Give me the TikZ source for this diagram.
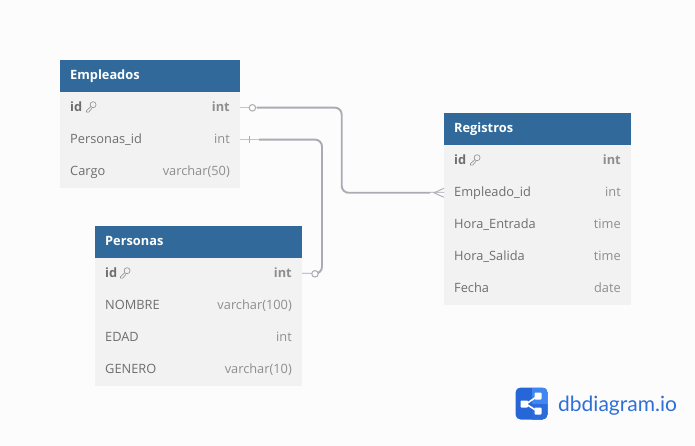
\documentclass[tikz,border=0pt]{standalone}
\usepackage{fontspec}
\setmainfont{Open Sans}
\newfontfamily\logofont{Lato}
\definecolor{hdr}{HTML}{316A9A}
\definecolor{rowbg}{HTML}{F2F2F3}
\definecolor{pagebg}{HTML}{FCFCFD}
\definecolor{txt}{HTML}{6E6E6E}
\definecolor{typ}{HTML}{8E8E8E}
\definecolor{lnk}{HTML}{ABABB3}
\definecolor{lnklight}{HTML}{C4C4C8}
\definecolor{logoA}{HTML}{2766D6}
\definecolor{logoB}{HTML}{3F86F2}
\definecolor{logoT}{HTML}{2F6FD8}
\tikzset{
  x=1pt,y=-1pt,
  head/.style={fill=hdr,minimum height=32pt,anchor=north west,inner sep=0pt,outer sep=0pt},
  body/.style={fill=rowbg,anchor=north west,inner sep=0pt,outer sep=0pt},
  htext/.style={anchor=base west,inner sep=0pt,text=white,font=\fontsize{12.8}{14}\selectfont\bfseries},
  fname/.style={anchor=base west,inner sep=0pt,text=txt,font=\fontsize{12.8}{14}\selectfont},
  fkey/.style={anchor=base west,inner sep=0pt,text=txt,font=\fontsize{12.8}{14}\selectfont\bfseries},
  ftype/.style={anchor=base east,inner sep=0pt,text=typ,font=\fontsize{12.8}{14}\selectfont},
  fktype/.style={anchor=base east,inner sep=0pt,text=typ,font=\fontsize{12.8}{14}\selectfont\bfseries},
  rel/.style={draw=lnk,line width=1.9pt,rounded corners=7pt},
  relthin/.style={draw=lnklight,line width=1.1pt},
  endcirc/.style={circle,draw=lnk,fill=pagebg,line width=1pt,minimum size=6.5pt,inner sep=0pt},
  keyicon/.style={draw=typ,line width=.6pt},
}
\begin{document}
\begin{tikzpicture}
\useasboundingbox (0,0) rectangle (695,446);
\fill[pagebg] (0,0) rectangle (695,446);

% Empleados
\node[body,minimum width=180pt,minimum height=96pt] (eb) at (60,92) {};
\node[head,minimum width=180pt] (eh) at (60,60) {};
\node[htext] (et) at (70,79.5) {Empleados};
\node[fkey] (e1) at (70,111.5) {id};
\node[fktype] (e1t) at (230,111.5) {int};
\node[fname] (e2) at (70,143.5) {Personas\_id};
\node[ftype] (e2t) at (230,143.5) {int};
\node[fname] (e3) at (70,175.5) {Cargo};
\node[ftype] (e3t) at (230,175.5) {varchar(50)};
\coordinate (e1r) at (240,107.6);
\coordinate (e2r) at (240,139.6);

% Personas
\node[body,minimum width=207pt,minimum height=128pt] (pb) at (95,258) {};
\node[head,minimum width=207pt] (ph) at (95,226) {};
\node[htext] (pt) at (105,245) {Personas};
\node[fkey] (p1) at (105,277) {id};
\node[fktype] (p1t) at (292,277) {int};
\node[fname] (p2) at (105,309) {NOMBRE};
\node[ftype] (p2t) at (292,309) {varchar(100)};
\node[fname] (p3) at (105,341) {EDAD};
\node[ftype] (p3t) at (292,341) {int};
\node[fname] (p4) at (105,373) {GENERO};
\node[ftype] (p4t) at (292,373) {varchar(10)};
\coordinate (p1r) at (302,273.7);

% Registros
\node[body,minimum width=187pt,minimum height=160pt] (rb) at (444,145) {};
\node[head,minimum width=187pt] (rh) at (444,113) {};
\node[htext] (rt) at (454,132.5) {Registros};
\node[fkey] (r1) at (454,164.5) {id};
\node[fktype] (r1t) at (621,164.5) {int};
\node[fname] (r2) at (454,196.5) {Empleado\_id};
\node[ftype] (r2t) at (621,196.5) {int};
\node[fname] (r3) at (454,228.5) {Hora\_Entrada};
\node[ftype] (r3t) at (621,228.5) {time};
\node[fname] (r4) at (454,260) {Hora\_Salida};
\node[ftype] (r4t) at (621,260) {time};
\node[fname] (r5) at (454,292) {Fecha};
\node[ftype] (r5t) at (621,292) {date};
\coordinate (r2l) at (444,192.8);

% key icons
\foreach \kx/\ky in {90.5/106.5,124.5/272.5,474.5/159.5}{
  \draw[keyicon] (\kx+2.6,\ky-1.8) circle[radius=3pt];
  \draw[keyicon] (\kx+.4,\ky+.1) -- (\kx-4,\ky+4.2) -- (\kx-4,\ky+5.6) -- (\kx-1.8,\ky+5.6) -- (\kx+1.4,\ky+1.9);
}

% connectors
\draw[rel] (e1r) -- (341.7,107.6) -- (341.7,192.8) -- (r2l);
\draw[rel] (e2r) -- (322,139.6) -- (322,273.7) -- (p1r);
% line ends
\draw[draw=pagebg,line width=2.4pt] (e1r) -- ++(17,0);
\draw[relthin] (e1r) -- ++(17,0);
\draw[draw=pagebg,line width=2.4pt] (e2r) -- ++(19,0);
\draw[relthin] (e2r) -- ++(19,0);
\draw[draw=pagebg,line width=2.4pt] (p1r) -- ++(12,0);
\draw[relthin] (p1r) -- ++(12,0);
\draw[draw=pagebg,line width=2.4pt] (r2l) -- ++(-14,0);
\draw[relthin] (r2l) -- ++(-14,0);
\node[endcirc] (c1) at (252.4,107.8) {};
\node[endcirc] (c2) at (315,273.8) {};
\draw[lnk,line width=.9pt] (249.7,136) -- (249.7,143.3);
\draw[lnk,line width=.9pt] (434,192.8) -- (444,188.3);
\draw[lnk,line width=.9pt] (434,192.8) -- (444,197.3);

% logo
\fill[logoA,rounded corners=5pt] (515.5,387.5) rectangle (547.5,419.5);
\begin{scope}
  \clip[rounded corners=5pt] (515.5,387.5) rectangle (547.5,419.5);
  \fill[logoB] (531.5,387.5) rectangle (547.5,404);
  \fill[logoA!85!logoB] (531.5,404) rectangle (547.5,419.5);
\end{scope}
\draw[white,line width=1.6pt] (526,404) -- (537,396.5) (526,404) -- (537,411);
\fill[white,rounded corners=.8pt] (520.5,400.5) rectangle (528,407.5);
\fill[white,rounded corners=.8pt] (534.5,392.5) rectangle (541.5,399.5);
\fill[white,rounded corners=.8pt] (534.5,407.5) rectangle (541.5,414.5);
\node[anchor=base west,inner sep=0pt,text=logoT,font=\logofont\fontsize{21}{24}\selectfont] (logo) at (558,411) {dbdiagram.io};
\end{tikzpicture}
\end{document}
